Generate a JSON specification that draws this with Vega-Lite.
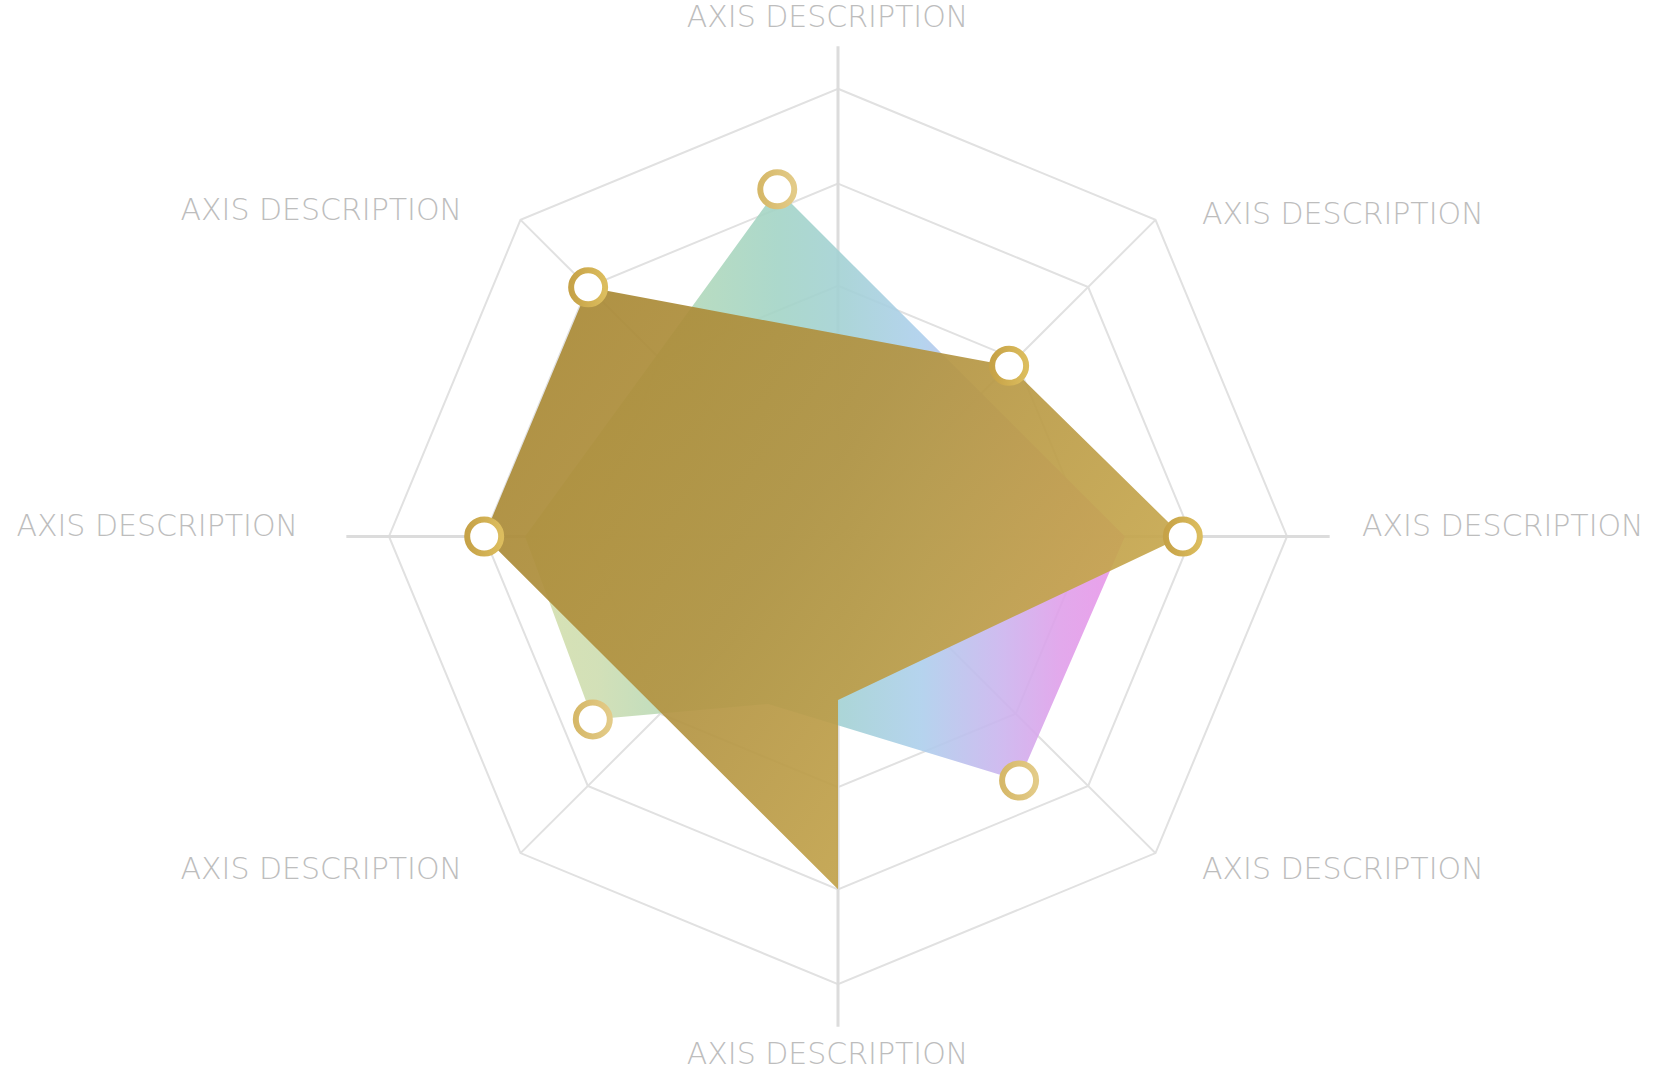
{
  "$schema": "https://vega.github.io/schema/vega-lite/v6.json",
  "width": 1654,
  "height": 1070,
  "autosize": {"type": "fit", "contains": "padding"},
  "padding": 0,
  "background": "white",
  "config": {"view": {"stroke": null}},
  "datasets": {
    "axes": [
      {"i": 0, "angle": 0, "spoke": 109.5, "label": "AXIS DESCRIPTION"},
      {"i": 1, "angle": 45, "spoke": 100, "label": "AXIS DESCRIPTION"},
      {"i": 2, "angle": 90, "spoke": 109.5, "label": "AXIS DESCRIPTION"},
      {"i": 3, "angle": 135, "spoke": 100, "label": "AXIS DESCRIPTION"},
      {"i": 4, "angle": 180, "spoke": 109.5, "label": "AXIS DESCRIPTION"},
      {"i": 5, "angle": 225, "spoke": 100, "label": "AXIS DESCRIPTION"},
      {"i": 6, "angle": 270, "spoke": 109.5, "label": "AXIS DESCRIPTION"},
      {"i": 7, "angle": 315, "spoke": 100, "label": "AXIS DESCRIPTION"}
    ],
    "grid": [
      {"ring": 1, "i": 0, "angle": 0, "value": 56}, {"ring": 1, "i": 1, "angle": 45, "value": 56},
      {"ring": 1, "i": 2, "angle": 90, "value": 56}, {"ring": 1, "i": 3, "angle": 135, "value": 56},
      {"ring": 1, "i": 4, "angle": 180, "value": 56}, {"ring": 1, "i": 5, "angle": 225, "value": 56},
      {"ring": 1, "i": 6, "angle": 270, "value": 56}, {"ring": 1, "i": 7, "angle": 315, "value": 56},
      {"ring": 2, "i": 0, "angle": 0, "value": 78.8}, {"ring": 2, "i": 1, "angle": 45, "value": 78.8},
      {"ring": 2, "i": 2, "angle": 90, "value": 78.8}, {"ring": 2, "i": 3, "angle": 135, "value": 78.8},
      {"ring": 2, "i": 4, "angle": 180, "value": 78.8}, {"ring": 2, "i": 5, "angle": 225, "value": 78.8},
      {"ring": 2, "i": 6, "angle": 270, "value": 78.8}, {"ring": 2, "i": 7, "angle": 315, "value": 78.8},
      {"ring": 3, "i": 0, "angle": 0, "value": 100}, {"ring": 3, "i": 1, "angle": 45, "value": 100},
      {"ring": 3, "i": 2, "angle": 90, "value": 100}, {"ring": 3, "i": 3, "angle": 135, "value": 100},
      {"ring": 3, "i": 4, "angle": 180, "value": 100}, {"ring": 3, "i": 5, "angle": 225, "value": 100},
      {"ring": 3, "i": 6, "angle": 270, "value": 100}, {"ring": 3, "i": 7, "angle": 315, "value": 100}
    ],
    "gold": [
      {"i": 0, "angle": 315, "value": 78.7},
      {"i": 1, "angle": 45, "value": 53.9},
      {"i": 2, "angle": 90, "value": 76.8},
      {"i": 3, "angle": 180, "value": 36.5},
      {"i": 4, "angle": 180, "value": 78.8},
      {"i": 5, "angle": 270, "value": 78.8}
    ],
    "spectrum": [
      {"i": 0, "angle": 350.1, "value": 78.7},
      {"i": 1, "angle": 90, "value": 63.9},
      {"i": 2, "angle": 143.5, "value": 67.8},
      {"i": 3, "angle": 202.6, "value": 40.5},
      {"i": 4, "angle": 233.2, "value": 68.2},
      {"i": 5, "angle": 270, "value": 69.7}
    ],
    "markers": [
      {"series": "gold", "angle": 315, "value": 78.7},
      {"series": "gold", "angle": 45, "value": 53.9},
      {"series": "gold", "angle": 90, "value": 76.8},
      {"series": "gold", "angle": 270, "value": 78.8},
      {"series": "spectrum", "angle": 350.1, "value": 78.7},
      {"series": "spectrum", "angle": 143.5, "value": 67.8},
      {"series": "spectrum", "angle": 233.2, "value": 68.2}
    ]
  },
  "layer": [
    {
      "data": {"name": "grid"},
      "transform": [
        {"calculate": "datum.value * sin(datum.angle * PI / 180)", "as": "x"},
        {"calculate": "datum.value * cos(datum.angle * PI / 180)", "as": "y"}
      ],
      "mark": {"type": "line", "interpolate": "linear-closed", "stroke": "#e1e1e1", "strokeWidth": 2},
      "encoding": {
        "x": {"field": "x", "type": "quantitative", "scale": {"domain": [-186.637, 181.737], "nice": false, "zero": false}, "axis": null},
        "y": {"field": "y", "type": "quantitative", "scale": {"domain": [-118.486, 119.822], "nice": false, "zero": false}, "axis": null},
        "detail": {"field": "ring", "type": "nominal"},
        "order": {"field": "i", "type": "quantitative"}
      }
    },
    {
      "data": {"name": "axes"},
      "transform": [
        {"filter": "datum.angle % 90 != 0"},
        {"calculate": "0", "as": "x0"},
        {"calculate": "0", "as": "y0"},
        {"calculate": "datum.spoke * sin(datum.angle * PI / 180)", "as": "x"},
        {"calculate": "datum.spoke * cos(datum.angle * PI / 180)", "as": "y"}
      ],
      "mark": {"type": "rule", "stroke": "#e1e1e1", "strokeWidth": 2},
      "encoding": {
        "x": {"field": "x0", "type": "quantitative", "scale": {"domain": [-186.637, 181.737], "nice": false, "zero": false}, "axis": null},
        "y": {"field": "y0", "type": "quantitative", "scale": {"domain": [-118.486, 119.822], "nice": false, "zero": false}, "axis": null},
        "x2": {"field": "x"},
        "y2": {"field": "y"}
      }
    },
    {
      "data": {"name": "axes"},
      "transform": [
        {"filter": "datum.angle % 90 == 0"},
        {"calculate": "0", "as": "x0"},
        {"calculate": "0", "as": "y0"},
        {"calculate": "datum.spoke * sin(datum.angle * PI / 180)", "as": "x"},
        {"calculate": "datum.spoke * cos(datum.angle * PI / 180)", "as": "y"}
      ],
      "mark": {"type": "rule", "stroke": "#dcdcdc", "strokeWidth": 3},
      "encoding": {
        "x": {"field": "x0", "type": "quantitative", "scale": {"domain": [-186.637, 181.737], "nice": false, "zero": false}, "axis": null},
        "y": {"field": "y0", "type": "quantitative", "scale": {"domain": [-118.486, 119.822], "nice": false, "zero": false}, "axis": null},
        "x2": {"field": "x"},
        "y2": {"field": "y"}
      }
    },
    {
      "data": {"name": "spectrum"},
      "transform": [
        {"calculate": "datum.value * sin(datum.angle * PI / 180)", "as": "x"},
        {"calculate": "datum.value * cos(datum.angle * PI / 180)", "as": "y"}
      ],
      "mark": {
        "type": "line",
        "interpolate": "linear-closed",
        "strokeWidth": 0,
        "stroke": "transparent",
        "fillOpacity": 0.9,
        "fill": {
          "gradient": "linear", "x1": 0, "y1": 0, "x2": 1, "y2": 0,
          "stops": [
            {"offset": 0, "color": "#d4dfac"},
            {"offset": 0.12, "color": "#ceddb0"},
            {"offset": 0.29, "color": "#b0d8bb"},
            {"offset": 0.42, "color": "#a3d4c6"},
            {"offset": 0.53, "color": "#a3d1d4"},
            {"offset": 0.66, "color": "#adcfec"},
            {"offset": 0.79, "color": "#cab5ee"},
            {"offset": 0.89, "color": "#dfa0ea"},
            {"offset": 1, "color": "#e995e8"}
          ]
        }
      },
      "encoding": {
        "x": {"field": "x", "type": "quantitative", "scale": {"domain": [-186.637, 181.737], "nice": false, "zero": false}, "axis": null},
        "y": {"field": "y", "type": "quantitative", "scale": {"domain": [-118.486, 119.822], "nice": false, "zero": false}, "axis": null},
        "order": {"field": "i", "type": "quantitative"}
      }
    },
    {
      "data": {"name": "gold"},
      "transform": [
        {"calculate": "datum.value * sin(datum.angle * PI / 180)", "as": "x"},
        {"calculate": "datum.value * cos(datum.angle * PI / 180)", "as": "y"}
      ],
      "mark": {
        "type": "line",
        "interpolate": "linear-closed",
        "strokeWidth": 0,
        "stroke": "transparent",
        "fillOpacity": 0.93,
        "fill": {
          "gradient": "linear", "x1": 0, "y1": 0, "x2": 1, "y2": 0.6,
          "stops": [
            {"offset": 0, "color": "#a78733"},
            {"offset": 0.5, "color": "#b39443"},
            {"offset": 1, "color": "#cbac52"}
          ]
        }
      },
      "encoding": {
        "x": {"field": "x", "type": "quantitative", "scale": {"domain": [-186.637, 181.737], "nice": false, "zero": false}, "axis": null},
        "y": {"field": "y", "type": "quantitative", "scale": {"domain": [-118.486, 119.822], "nice": false, "zero": false}, "axis": null},
        "order": {"field": "i", "type": "quantitative"}
      }
    },
    {
      "data": {"name": "markers"},
      "transform": [
        {"filter": "datum.series == 'gold'"},
        {"calculate": "datum.value * sin(datum.angle * PI / 180)", "as": "x"},
        {"calculate": "datum.value * cos(datum.angle * PI / 180)", "as": "y"}
      ],
      "mark": {
        "type": "point", "shape": "circle", "filled": true, "fill": "#ffffff", "fillOpacity": 1, "opacity": 1,
        "size": 1156, "strokeWidth": 6, "strokeOpacity": 1,
        "stroke": {
          "gradient": "linear", "x1": 0, "y1": 0, "x2": 1, "y2": 0,
          "stops": [{"offset": 0, "color": "#c6a247"}, {"offset": 1, "color": "#dcbd5e"}]
        }
      },
      "encoding": {
        "x": {"field": "x", "type": "quantitative", "scale": {"domain": [-186.637, 181.737], "nice": false, "zero": false}, "axis": null},
        "y": {"field": "y", "type": "quantitative", "scale": {"domain": [-118.486, 119.822], "nice": false, "zero": false}, "axis": null}
      }
    },
    {
      "data": {"name": "markers"},
      "transform": [
        {"filter": "datum.series == 'spectrum'"},
        {"calculate": "datum.value * sin(datum.angle * PI / 180)", "as": "x"},
        {"calculate": "datum.value * cos(datum.angle * PI / 180)", "as": "y"}
      ],
      "mark": {
        "type": "point", "shape": "circle", "filled": true, "fill": "#ffffff", "fillOpacity": 1, "opacity": 1,
        "size": 1156, "strokeWidth": 6, "strokeOpacity": 1,
        "stroke": {
          "gradient": "linear", "x1": 0, "y1": 0, "x2": 1, "y2": 0,
          "stops": [{"offset": 0, "color": "#d6b868"}, {"offset": 1, "color": "#e3cb88"}]
        }
      },
      "encoding": {
        "x": {"field": "x", "type": "quantitative", "scale": {"domain": [-186.637, 181.737], "nice": false, "zero": false}, "axis": null},
        "y": {"field": "y", "type": "quantitative", "scale": {"domain": [-118.486, 119.822], "nice": false, "zero": false}, "axis": null}
      }
    },
    {
      "data": {"name": "axes"},
      "transform": [
        {"filter": "datum.angle == 0 || datum.angle == 180"},
        {"calculate": "0", "as": "x"},
        {"calculate": "519.75 / 4.49 * cos(datum.angle * PI / 180)", "as": "y"}
      ],
      "mark": {"type": "text", "align": "center", "baseline": "alphabetic", "dx": -10.5, "dy": 8.75, "font": "DejaVu Sans", "fontSize": 30, "fontWeight": 300, "fill": "#bdbdbd"},
      "encoding": {
        "x": {"field": "x", "type": "quantitative", "scale": {"domain": [-186.637, 181.737], "nice": false, "zero": false}, "axis": null},
        "y": {"field": "y", "type": "quantitative", "scale": {"domain": [-118.486, 119.822], "nice": false, "zero": false}, "axis": null},
        "text": {"field": "label", "type": "nominal"}
      }
    },
    {
      "data": {"name": "axes"},
      "transform": [
        {"filter": "datum.angle == 90"},
        {"calculate": "524 / 4.49", "as": "x"},
        {"calculate": "0", "as": "y"}
      ],
      "mark": {"type": "text", "align": "left", "baseline": "alphabetic", "font": "DejaVu Sans", "fontSize": 30, "fontWeight": 300, "fill": "#bdbdbd"},
      "encoding": {
        "x": {"field": "x", "type": "quantitative", "scale": {"domain": [-186.637, 181.737], "nice": false, "zero": false}, "axis": null},
        "y": {"field": "y", "type": "quantitative", "scale": {"domain": [-118.486, 119.822], "nice": false, "zero": false}, "axis": null},
        "text": {"field": "label", "type": "nominal"}
      }
    },
    {
      "data": {"name": "axes"},
      "transform": [
        {"filter": "datum.angle == 270"},
        {"calculate": "-540 / 4.49", "as": "x"},
        {"calculate": "0", "as": "y"}
      ],
      "mark": {"type": "text", "align": "right", "baseline": "alphabetic", "font": "DejaVu Sans", "fontSize": 30, "fontWeight": 300, "fill": "#bdbdbd"},
      "encoding": {
        "x": {"field": "x", "type": "quantitative", "scale": {"domain": [-186.637, 181.737], "nice": false, "zero": false}, "axis": null},
        "y": {"field": "y", "type": "quantitative", "scale": {"domain": [-118.486, 119.822], "nice": false, "zero": false}, "axis": null},
        "text": {"field": "label", "type": "nominal"}
      }
    },
    {
      "data": {"name": "axes"},
      "transform": [
        {"filter": "datum.angle == 45 || datum.angle == 135"},
        {"calculate": "514.8 / 4.49 * sin(datum.angle * PI / 180)", "as": "x"},
        {"calculate": "(cos(datum.angle * PI / 180) > 0 ? 463.9 : 465.3) / 4.49 * cos(datum.angle * PI / 180)", "as": "y"}
      ],
      "mark": {"type": "text", "align": "left", "baseline": "alphabetic", "dy": 14.5, "font": "DejaVu Sans", "fontSize": 30, "fontWeight": 300, "fill": "#bdbdbd"},
      "encoding": {
        "x": {"field": "x", "type": "quantitative", "scale": {"domain": [-186.637, 181.737], "nice": false, "zero": false}, "axis": null},
        "y": {"field": "y", "type": "quantitative", "scale": {"domain": [-118.486, 119.822], "nice": false, "zero": false}, "axis": null},
        "text": {"field": "label", "type": "nominal"}
      }
    },
    {
      "data": {"name": "axes"},
      "transform": [
        {"filter": "datum.angle == 225 || datum.angle == 315"},
        {"calculate": "531.7 / 4.49 * sin(datum.angle * PI / 180)", "as": "x"},
        {"calculate": "(cos(datum.angle * PI / 180) > 0 ? 463.9 : 469.5) / 4.49 * cos(datum.angle * PI / 180)", "as": "y"}
      ],
      "mark": {"type": "text", "align": "right", "baseline": "alphabetic", "dy": 11, "font": "DejaVu Sans", "fontSize": 30, "fontWeight": 300, "fill": "#bdbdbd"},
      "encoding": {
        "x": {"field": "x", "type": "quantitative", "scale": {"domain": [-186.637, 181.737], "nice": false, "zero": false}, "axis": null},
        "y": {"field": "y", "type": "quantitative", "scale": {"domain": [-118.486, 119.822], "nice": false, "zero": false}, "axis": null},
        "text": {"field": "label", "type": "nominal"}
      }
    }
  ]
}
